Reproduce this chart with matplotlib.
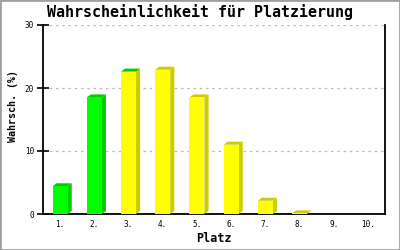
import numpy as np
import matplotlib
matplotlib.use("Agg")
import matplotlib.pyplot as plt
from matplotlib.patches import Polygon, Rectangle

# probability for each place
places = ["1.", "2.", "3.", "4.", "5.", "6.", "7.", "8.", "9.", "10."]
values = [4.4, 18.5, 22.6, 22.9, 18.5, 11.0, 2.1, 0.1, 0.0, 0.0]
front_colors = ["#00ff00", "#00ff00", "#ffff00", "#ffff00", "#ffff00",
                "#ffff00", "#ffff00", "#ffff00", "#ffff00", "#ffff00"]
side_colors = ["#00cc00", "#00cc00", "#cccc00", "#cccc00", "#cccc00",
               "#cccc00", "#cccc00", "#cccc00", "#cccc00", "#cccc00"]
# bar 3 has a green cap in the original
top_colors = ["#00cc00", "#00cc00", "#00cc00", "#cccc00", "#cccc00",
              "#cccc00", "#cccc00", "#cccc00", "#cccc00", "#cccc00"]
yticks = [0, 10, 20, 30]

mono = "DejaVu Sans Mono"

fig = plt.figure(figsize=(4, 2.5), dpi=100)
fig.patches.append(Rectangle((0, 0), 1, 1, transform=fig.transFigure,
                             fill=False, edgecolor="#a0a0a0", linewidth=2))
ax = fig.add_axes([0.1075, 0.144, 0.855, 0.756])

x = np.arange(len(places))
w = 0.44
dx = 0.12
dy = 0.48
for xi, v, fc, sc, tc in zip(x, values, front_colors, side_colors, top_colors):
    if v <= 0:
        continue
    l, r = xi - w / 2, xi + w / 2
    side = Polygon([(r, 0), (r + dx, dy), (r + dx, v + dy), (r, v)],
                   closed=True, facecolor=sc, edgecolor="none", zorder=3)
    top = Polygon([(l, v), (l + dx, v + dy), (r + dx, v + dy), (r, v)],
                  closed=True, facecolor=tc, edgecolor="none", zorder=3)
    ax.add_patch(side)
    ax.add_patch(top)
    ax.bar(xi, v, width=w, color=fc, zorder=4)

ax.set_xlim(-0.5, len(places) - 0.5)
ax.set_ylim(0, 30)
ax.set_xticks(x)
ax.set_xticklabels(places, fontfamily=mono, fontsize=5.5)
ax.set_yticks(yticks)
ax.set_yticklabels([str(t) for t in yticks], fontfamily=mono, fontsize=5.5)
ax.tick_params(axis="x", length=0, pad=4)
ax.tick_params(axis="y", direction="inout", length=9, width=1.2, pad=2)
ax.yaxis.grid(True, linestyle=(0, (2, 3)), color="#bbbbbb", linewidth=0.9)
ax.set_axisbelow(True)
for s in ["left", "bottom", "right"]:
    ax.spines[s].set_linewidth(1.3)
ax.spines["top"].set_visible(False)

fig.text(0.535, 0.048, "Platz", ha="center", va="center", fontfamily=mono,
         fontsize=8.5, fontweight="bold")
fig.text(0.033, 0.576, "Wahrsch. (%)", ha="center", va="center",
         rotation=90, fontfamily=mono, fontsize=7.2, fontweight="bold")
fig.text(0.5, 0.95, "Wahrscheinlichkeit für Platzierung", ha="center",
         va="center", fontfamily=mono, fontsize=10.8, fontweight="bold")

fig.savefig("out.png", dpi=100)
